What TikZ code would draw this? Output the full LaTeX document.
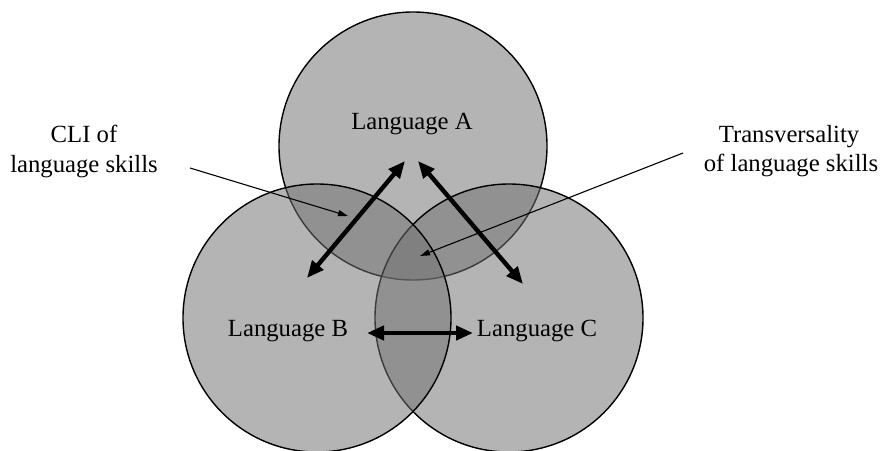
\documentclass[tikz,border=0pt]{standalone}
\usepackage{fontspec}
\setmainfont{Liberation Serif}
\usetikzlibrary{arrows.meta}
\begin{document}
\begin{tikzpicture}[x=0.5pt,y=-0.5pt,
  venn/.style={circle, draw=black, line width=0.7pt, fill={rgb,255:red,112;green,112;blue,112}, fill opacity=0.52, minimum size=134pt, inner sep=0pt, outer sep=0pt},
  lbl/.style={font=\fontsize{12.35}{15}\selectfont, inner sep=0pt, anchor=base},
  bigarrow/.style={{Triangle[length=8.5pt,width=7pt]}-{Triangle[length=8.5pt,width=7pt]}, line width=2.2pt},
  thinarrow/.style={-{Triangle[length=5pt,width=3pt]}, line width=0.55pt}]
\useasboundingbox (0,0) rectangle (882,450);
% circles
\node[venn] (cA) at (413,146) {};
\node[venn] (cC) at (509,318) {};
\node[venn] (cB) at (317,318) {};
% labels
\node[lbl] (tA) at (412,129) {Language A};
\node[lbl] (tB) at (288,336) {Language B};
\node[lbl] (tC) at (537,336) {Language C};
\node[lbl] (cli1) at (84,142) {CLI of};
\node[lbl] (cli2) at (84,172) {language skills};
\node[lbl] (tr1) at (789,142) {Transversality};
\node[lbl] (tr2) at (791,171) {of language skills};
% arrow end points
\coordinate (ab1) at (405,161);
\coordinate (ab2) at (307,278);
\coordinate (ac1) at (418,161);
\coordinate (ac2) at (523,284);
\coordinate (bc1) at (367,333);
\coordinate (bc2) at (473,333);
\coordinate (cliS) at (190,168);
\coordinate (cliE) at (348,216);
\coordinate (trS) at (683,153);
\coordinate (trE) at (420,256);
% arrows
\draw[bigarrow] (ab1) -- (ab2);
\draw[bigarrow] (ac1) -- (ac2);
\draw[bigarrow] (bc1) -- (bc2);
\draw[thinarrow] (cliS) -- (cliE);
\draw[thinarrow] (trS) -- (trE);
\end{tikzpicture}
\end{document}
